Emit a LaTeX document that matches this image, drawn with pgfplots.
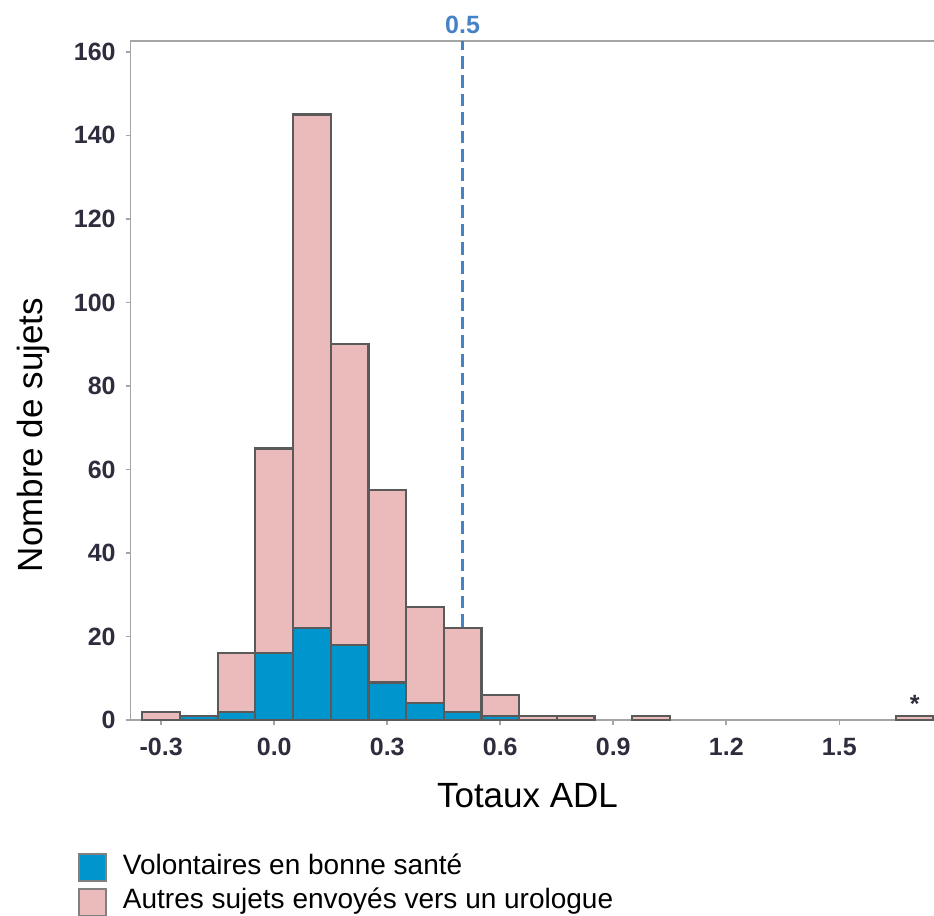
\documentclass[border=0pt]{standalone}
\usepackage{fontspec}
\setmainfont{Liberation Sans}
\usepackage{pgfplots}
\usepackage{pgfplotstable}
\pgfplotsset{compat=1.18}
\definecolor{hblue}{RGB}{0,150,205}
\definecolor{hpink}{RGB}{235,187,188}
\definecolor{hedge}{RGB}{90,90,90}
\definecolor{axgray}{RGB}{165,165,165}
\definecolor{tickc}{RGB}{45,45,62}
\definecolor{refblue}{RGB}{70,130,200}

% blue = Volontaires en bonne sante; total = all subjects in the bin
\pgfplotstableread{
x blue total
-0.3 0 2
-0.2 1 1
-0.1 2 16
0.0 16 65
0.1 22 145
0.2 18 90
0.3 9 55
0.4 4 27
0.5 2 22
0.6 1 6
0.7 0 1
0.8 0 1
1.0 0 1
1.7 0 1
}\datatab

\pgfplotstableread{
x y
0.5 0
0.5 162.6
}\reftab

\begin{document}
\begin{tikzpicture}
\clip (-65.35pt,-98pt) rectangle (401.65pt,360pt);
\begin{axis}[
  scale only axis, width=411pt, height=339.5pt,
  xmin=-0.381, xmax=1.801, ymin=0, ymax=162.6,
  clip=false,
  axis line style={axgray, line width=0.8pt},
  tick style={axgray, line width=0.8pt},
  tick align=outside, major tick length=2.5pt,
  xtick pos=left, ytick pos=left,
  xtick={-0.3,0,0.3,0.6,0.9,1.2,1.5},
  xticklabels={-0.3,0.0,0.3,0.6,0.9,1.2,1.5},
  ytick={0,20,...,160},
  ticklabel style={font=\fontsize{12.5}{14}\selectfont\bfseries, text=tickc},
  xticklabel style={yshift=-3pt},
  yticklabel style={xshift=-1.5pt},
  /pgf/number format/assume math mode=true,
  xlabel={Totaux ADL}, ylabel={Nombre de sujets},
  label style={font=\fontsize{17.5}{20}\selectfont},
  xlabel style={at={(axis description cs:0.4827,-0.1296)}, anchor=base},
  ylabel style={at={(axis description cs:-0.1079,0.4197)}, anchor=base},
  legend style={at={(axis description cs:-0.0642,-0.1959)}, anchor=north west,
    draw=none, fill=none, inner sep=0pt, row sep=3pt, column sep=8pt,
    font=\fontsize{14}{16}\selectfont,
    nodes={inner sep=0pt, text height=10pt, text depth=3.5pt}},
  legend cell align=left,
  reverse legend,
]
\addplot[forget plot, refblue, line width=1.6pt, dash pattern=on 6.3pt off 3pt, no marks] table[x=x,y=y]{\reftab};
\addplot[ybar, bar width=0.1, bar shift=0pt, fill=hpink, draw=hedge, line width=1.1pt,
  legend image code/.code={\draw[fill=hpink, draw=gray, line width=0.8pt] (0pt,-6.75pt) rectangle (13.5pt,6.75pt);}]
  table[x=x,y=total]{\datatab};
\addplot[ybar, bar width=0.1, bar shift=0pt, fill=hblue, draw=hedge, line width=1.1pt,
  legend image code/.code={\draw[fill=hblue, draw=gray, line width=0.8pt] (0pt,-6.75pt) rectangle (13.5pt,6.75pt);}]
  table[x=x,y=blue]{\datatab};
\legend{Autres sujets envoyés vers un urologue, Volontaires en bonne santé}
\node[anchor=base, text=refblue, font=\fontsize{12.5}{14}\selectfont\bfseries] at (axis cs:0.5,164.5) {0.5};
\node[anchor=base, text=tickc, font=\fontsize{12.5}{14}\selectfont\bfseries] at (axis cs:1.7,1.7) {*};
\end{axis}
\end{tikzpicture}
\end{document}
